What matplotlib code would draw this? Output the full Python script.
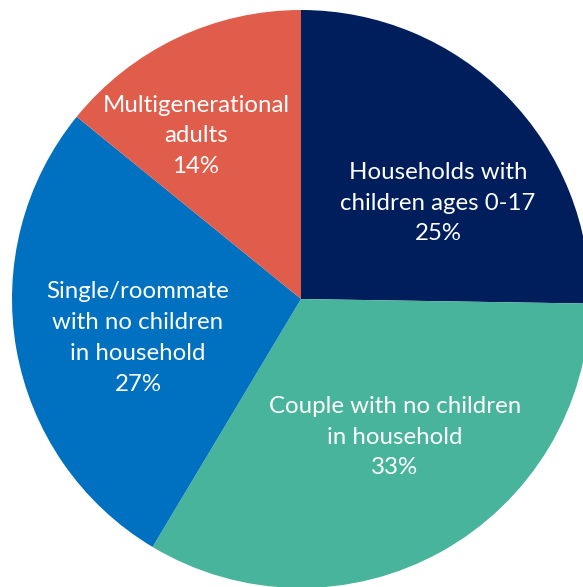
import matplotlib
matplotlib.use("Agg")
import matplotlib.pyplot as plt

# Household composition shares (percent)
categories = [
    "Households with\nchildren ages 0-17",
    "Couple with no children\nin household",
    "Single/roommate\nwith no children\nin household",
    "Multigenerational\nadults",
]
shares = [25, 33, 27, 14]
colors = ["#001E5B", "#48B49B", "#0070C0", "#E05C4B"]

# label anchor points in pixel space (x, y from top)
label_pos = [(438, 203), (395, 437), (138, 338), (196, 136)]

W, H = 583, 587
fig = plt.figure(figsize=(W / 100, H / 100), dpi=100)
ax = fig.add_axes([0, 0, 1, 1])

cx, cy, r = 301, H - 299, 289
ax.pie(shares, colors=colors, startangle=90, counterclock=False,
       center=(cx, cy), radius=r, frame=True,
       wedgeprops=dict(linewidth=0))
ax.set_xlim(0, W)
ax.set_ylim(0, H)
ax.set_aspect("equal")
ax.axis("off")

for name, val, (x, y) in zip(categories, shares, label_pos):
    ax.text(x, H - y, f"{name}\n{val}%", ha="center", va="center",
            color="white", fontsize=17.3, family="Lato", linespacing=1.58)

fig.savefig("out.png", dpi=100)
